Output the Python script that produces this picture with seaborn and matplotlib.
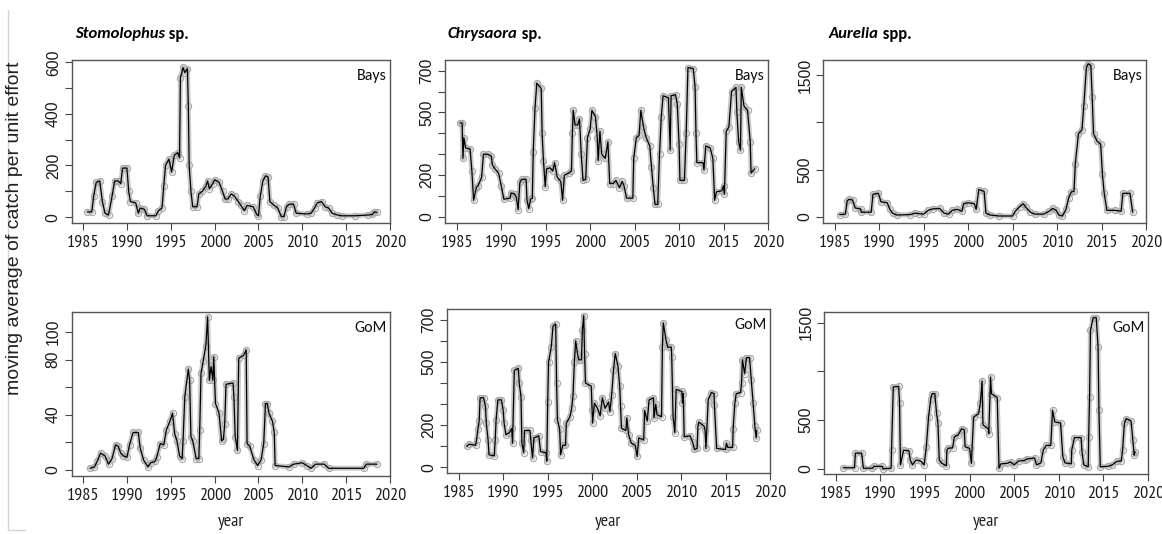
import numpy as np
import pandas as pd
import matplotlib
matplotlib.use("Agg")
import matplotlib.pyplot as plt
import seaborn as sns
from matplotlib import font_manager
from matplotlib.lines import Line2D

# ---------------- data ----------------
st_bays_year = [1985.5, 1986.0, 1986.2, 1986.5, 1986.9, 1987.2, 1987.5, 1987.9, 1988.3, 1988.6,
                1989.0, 1989.3, 1989.5, 1990.0, 1990.2, 1990.4, 1991.0, 1991.3, 1991.5, 1992.0,
                1992.3, 1993.3, 1993.6, 1994.0, 1994.2, 1994.4, 1994.8, 1995.1, 1995.4, 1995.8,
                1996.0, 1996.1, 1996.4, 1996.6, 1996.9, 1997.0, 1997.1, 1997.3, 1997.5, 1998.0,
                1998.2, 1998.6, 1999.0, 1999.2, 1999.4, 1999.8, 2000.0, 2000.5, 2000.9, 2001.2,
                2001.5, 2001.9, 2002.3, 2002.7, 2003.0, 2003.4, 2003.7, 2004.4, 2004.8, 2005.0,
                2005.2, 2005.5, 2005.8, 2006.1, 2006.3, 2006.8, 2007.2, 2007.6, 2007.9, 2008.2,
                2008.5, 2009.0, 2009.3, 2010.5, 2011.0, 2011.4, 2011.7, 2012.2, 2012.6, 2013.0,
                2013.4, 2014.0, 2014.5, 2016.0, 2017.5, 2018.0, 2018.2, 2018.5]
st_bays_val = [20, 20, 80, 135, 140, 60, 15, 8, 80, 140,
               140, 130, 190, 190, 100, 60, 55, 15, 35, 30,
               5, 5, 25, 35, 120, 200, 225, 175, 240, 250,
               230, 540, 580, 560, 575, 430, 200, 100, 40, 40,
               90, 100, 120, 140, 110, 130, 145, 135, 100, 70,
               70, 90, 80, 60, 45, 25, 45, 40, 10, 5,
               80, 140, 160, 155, 60, 45, 35, 2, 2, 40,
               50, 50, 15, 12, 15, 35, 55, 60, 40, 35,
               15, 8, 5, 5, 8, 10, 20, 18]

ch_bays_year = [1985.4, 1985.6, 1985.7, 1985.8, 1986.0, 1986.5, 1986.7, 1986.9, 1987.2, 1987.4,
                1987.8, 1988.0, 1988.5, 1988.9, 1989.0, 1989.3, 1989.7, 1990.0, 1990.3, 1991.0,
                1991.1, 1991.5, 1991.7, 1991.9, 1992.1, 1992.3, 1992.8, 1992.9, 1993.1, 1993.3,
                1993.5, 1993.6, 1993.8, 1994.0, 1994.5, 1994.6, 1994.75, 1994.95, 1995.1, 1995.5,
                1995.8, 1996.0, 1996.3, 1996.7, 1996.9, 1997.1, 1997.6, 1997.9, 1998.0, 1998.1,
                1998.3, 1998.6, 1998.8, 1999.0, 1999.2, 1999.5, 1999.7, 2000.0, 2000.2, 2000.6,
                2000.8, 2000.9, 2001.1, 2001.3, 2001.7, 2002.0, 2002.2, 2002.6, 2002.9, 2003.3,
                2003.6, 2003.8, 2004.1, 2004.8, 2004.9, 2005.2, 2005.5, 2005.7, 2006.0, 2006.3,
                2006.7, 2006.9, 2007.1, 2007.3, 2007.6, 2007.8, 2008.0, 2008.2, 2008.8, 2009.0,
                2009.1, 2009.6, 2009.8, 2010.0, 2010.1, 2010.6, 2010.8, 2011.0, 2011.6, 2011.8,
                2011.9, 2012.0, 2012.7, 2012.8, 2013.0, 2013.5, 2013.8, 2014.0, 2014.2, 2014.8,
                2015.0, 2015.1, 2015.3, 2015.6, 2015.9, 2016.4, 2016.5, 2016.7, 2016.9, 2017.0,
                2017.3, 2017.7, 2018.0, 2018.1, 2018.5]
ch_bays_val = [450, 450, 280, 380, 330, 325, 220, 80, 140, 150,
               190, 300, 300, 290, 250, 230, 210, 150, 85, 90,
               115, 110, 95, 35, 165, 180, 180, 80, 40, 85,
               90, 310, 520, 640, 615, 400, 270, 145, 230, 235,
               220, 260, 190, 170, 80, 200, 210, 220, 400, 510,
               440, 440, 470, 300, 175, 180, 380, 420, 510, 480,
               380, 270, 410, 300, 280, 360, 160, 160, 175, 140,
               170, 150, 90, 90, 280, 380, 390, 510, 430, 380,
               340, 240, 140, 60, 60, 300, 480, 580, 570, 320,
               580, 585, 540, 350, 175, 175, 400, 715, 710, 620,
               400, 260, 260, 225, 340, 330, 280, 80, 120, 125,
               150, 110, 410, 430, 600, 620, 500, 360, 320, 620,
               530, 510, 360, 210, 230]

au_bays_year = [1985.55, 1986.2, 1986.4, 1986.6, 1987.0, 1987.3, 1987.9, 1988.0, 1989.1, 1989.3,
                1989.9, 1990.2, 1990.9, 1991.2, 1991.5, 1992.0, 1993.5, 1994.0, 1994.5, 1995.0,
                1995.5, 1996.0, 1996.8, 1997.3, 1997.8, 1998.2, 1998.8, 1999.3, 1999.5, 2000.0,
                2000.7, 2000.9, 2001.2, 2001.8, 2002.0, 2002.5, 2003.5, 2005.0, 2005.3, 2005.8,
                2006.2, 2006.5, 2007.0, 2007.5, 2008.5, 2009.1, 2009.5, 2009.9, 2010.2, 2010.6,
                2011.0, 2011.3, 2011.6, 2011.9, 2012.05, 2012.4, 2012.8, 2013.0, 2013.3, 2013.5,
                2013.8, 2013.95, 2014.1, 2014.5, 2014.9, 2015.1, 2015.3, 2015.6, 2016.5, 2017.2,
                2017.4, 2018.2, 2018.5]
au_bays_val = [25, 30, 170, 185, 180, 95, 85, 50, 50, 240,
               250, 160, 150, 80, 40, 20, 25, 40, 35, 30,
               70, 85, 90, 40, 30, 70, 80, 60, 140, 150,
               140, 80, 290, 270, 40, 20, 10, 10, 60, 110,
               140, 100, 50, 30, 30, 60, 90, 70, 20, 10,
               80, 200, 265, 270, 560, 880, 920, 1170, 1580, 1620,
               1600, 1270, 880, 800, 770, 450, 250, 70, 70, 60,
               250, 250, 50]

st_gom_year = [1985.8, 1986.3, 1986.6, 1987.0, 1987.5, 1987.9, 1988.3, 1988.7, 1989.0, 1989.3,
               1989.6, 1990.0, 1990.3, 1990.7, 1991.3, 1991.5, 1991.9, 1992.4, 1992.7, 1993.2,
               1993.4, 1993.8, 1994.2, 1994.5, 1994.9, 1995.2, 1995.45, 1995.7, 1996.0, 1996.3,
               1996.4, 1996.6, 1997.0, 1997.15, 1997.3, 1997.5, 1997.9, 1998.2, 1998.3, 1998.45,
               1998.7, 1999.0, 1999.2, 1999.4, 1999.6, 1999.8, 1999.9, 2000.1, 2000.5, 2000.8,
               2001.0, 2001.15, 2001.3, 2002.1, 2002.2, 2002.35, 2002.6, 2002.75, 2003.3, 2003.6,
               2003.7, 2004.0, 2004.5, 2004.9, 2005.3, 2005.6, 2005.8, 2006.0, 2006.2, 2006.6,
               2006.8, 2006.9, 2008.5, 2009.0, 2010.0, 2010.5, 2011.0, 2011.5, 2012.5, 2013.0,
               2017.0, 2017.3, 2018.5]
st_gom_val = [1, 2, 6, 12, 10, 4, 8, 18, 17, 12,
              10, 9, 18, 27, 27, 16, 7, 2, 5, 6,
              9, 19, 18, 29, 35, 41, 26, 21, 10, 8,
              21, 53, 73, 65, 24, 21, 8, 8, 29, 70,
              79, 90, 111, 65, 75, 65, 82, 48, 41, 21,
              22, 33, 62, 63, 53, 24, 14, 81, 83, 87,
              19, 17, 7, 3, 7, 19, 48, 48, 41, 35,
              27, 3, 2, 4, 5, 3, 1, 4, 4, 1,
              1, 4, 4]

ch_gom_year = [1985.9, 1986.2, 1986.9, 1987.0, 1987.15, 1987.3, 1987.4, 1987.8, 1988.0, 1988.1,
               1988.3, 1988.4, 1989.0, 1989.1, 1989.2, 1989.4, 1989.8, 1990.0, 1990.1, 1990.3,
               1990.7, 1990.95, 1991.05, 1991.25, 1991.7, 1991.8, 1992.0, 1992.1, 1992.3, 1992.4,
               1993.0, 1993.1, 1993.3, 1993.45, 1994.0, 1994.2, 1994.8, 1994.9, 1995.0, 1995.1,
               1995.4, 1995.6, 1995.9, 1996.0, 1996.1, 1996.35, 1996.45, 1996.7, 1997.0, 1997.1,
               1997.5, 1997.7, 1997.85, 1998.0, 1998.15, 1998.35, 1998.5, 1998.8, 1998.9, 1999.05,
               1999.15, 1999.25, 1999.9, 2000.0, 2000.05, 2000.25, 2000.6, 2000.9, 2001.15, 2001.45,
               2001.85, 2002.0, 2002.2, 2002.4, 2002.6, 2002.9, 2003.1, 2003.2, 2003.3, 2003.8,
               2003.9, 2004.1, 2004.4, 2004.85, 2005.05, 2005.25, 2005.8, 2005.9, 2006.2, 2006.4,
               2006.9, 2006.95, 2007.15, 2007.3, 2007.8, 2007.9, 2008.0, 2008.3, 2008.5, 2008.9,
               2008.95, 2009.1, 2009.3, 2009.45, 2010.1, 2010.15, 2010.25, 2010.35, 2011.0, 2011.3,
               2011.5, 2011.8, 2011.9, 2012.0, 2012.6, 2012.7, 2012.8, 2013.05, 2013.4, 2013.7,
               2013.75, 2014.0, 2015.0, 2015.1, 2015.25, 2015.8, 2015.85, 2016.05, 2016.2, 2016.7,
               2016.8, 2016.9, 2017.15, 2017.35, 2017.7, 2017.9, 2018.1, 2018.3, 2018.45, 2018.5]
ch_gom_val = [100, 110, 105, 130, 180, 220, 330, 330, 290, 210,
              130, 60, 55, 130, 225, 320, 320, 270, 210, 155,
              165, 185, 115, 460, 470, 400, 335, 115, 70, 175,
              175, 130, 45, 140, 150, 75, 70, 30, 310, 500,
              570, 670, 680, 400, 225, 180, 60, 105, 105, 210,
              240, 280, 340, 500, 600, 540, 510, 510, 650, 720,
              540, 400, 385, 270, 210, 305, 280, 245, 330, 280,
              310, 265, 345, 460, 540, 480, 385, 290, 185, 175,
              235, 155, 115, 105, 52, 140, 130, 270, 220, 320,
              330, 235, 300, 250, 240, 570, 685, 605, 570, 570,
              525, 240, 165, 370, 360, 305, 350, 145, 150, 120,
              85, 90, 195, 215, 195, 175, 90, 320, 355, 350,
              295, 90, 85, 115, 95, 95, 180, 305, 350, 355,
              400, 510, 445, 520, 520, 415, 305, 195, 140, 175]

au_gom_year = [1985.85, 1987.1, 1987.2, 1987.9, 1988.1, 1989.1, 1989.3, 1990.2, 1990.3, 1991.2,
               1991.25, 1991.45, 1992.05, 1992.15, 1992.25, 1992.6, 1993.2, 1993.35, 1993.6, 1994.0,
               1994.5, 1994.9, 1995.15, 1995.4, 1995.65, 1995.8, 1996.1, 1996.3, 1996.45, 1996.6,
               1996.9, 1997.4, 1997.45, 1997.6, 1998.1, 1998.3, 1998.7, 1999.1, 1999.4, 1999.5,
               2000.0, 2000.2, 2000.45, 2001.0, 2001.2, 2001.4, 2001.5, 2002.1, 2002.15, 2002.35,
               2002.45, 2003.1, 2003.3, 2003.5, 2004.2, 2004.6, 2005.0, 2005.5, 2006.2, 2006.4,
               2007.3, 2007.5, 2008.0, 2008.25, 2008.6, 2009.1, 2009.3, 2009.55, 2010.2, 2010.45,
               2010.7, 2011.4, 2011.45, 2011.75, 2012.5, 2012.6, 2012.8, 2013.3, 2013.35, 2013.45,
               2013.55, 2013.85, 2014.2, 2014.4, 2014.5, 2014.65, 2015.5, 2016.0, 2016.5, 2017.0,
               2017.15, 2017.35, 2017.55, 2018.1, 2018.3, 2018.45, 2018.55]
au_gom_val = [10, 10, 160, 160, 5, 5, 25, 25, 0, 5,
              190, 840, 845, 670, 40, 190, 185, 90, 40, 90,
              80, 40, 225, 530, 720, 770, 770, 570, 465, 90,
              55, 30, 190, 210, 215, 330, 345, 410, 400, 225,
              210, 55, 530, 565, 670, 900, 450, 410, 360, 940,
              770, 730, 5, 50, 55, 70, 40, 80, 85, 100,
              110, 40, 60, 190, 240, 240, 600, 480, 470, 125,
              60, 50, 190, 320, 320, 175, 40, 20, 330, 740,
              1420, 1550, 1550, 1250, 600, 20, 25, 40, 75, 80,
              190, 465, 515, 490, 295, 140, 175]

x_ticks = [1985, 1990, 1995, 2000, 2005, 2010, 2015, 2020]

st_bays_yticks = [0, 100, 200, 300, 400, 500, 600]
st_bays_ylabels = ["0", "", "200", "", "400", "", "600"]
ch_yticks = [0, 100, 200, 300, 400, 500, 600, 700]
ch_ylabels = ["0", "", "200", "", "", "500", "", "700"]
au_yticks = [0, 500, 1000, 1500]
au_ylabels = ["0", "500", "", "1500"]
st_gom_yticks = [0, 20, 40, 60, 80, 100]
st_gom_ylabels = ["0", "", "40", "", "80", "100"]

region_labels = ["Bays", "GoM"]
genus_names = ["Stomolophus", "Chrysaora", "Aurelia"]
genus_suffix = [" sp.", " sp.", " spp."]
y_title = "moving average of catch per unit effort"
x_title = "year"

# ---------------- fonts ----------------
sns.set_theme(style="white")
REG = ["Liberation Sans", "DejaVu Sans"]           # Arial-like
NAR = ["PT Sans Narrow", "Roboto Condensed", "Liberation Sans", "DejaVu Sans"]  # narrow Arial-like
CAL = ["Carlito", "Lato", "Liberation Sans", "DejaVu Sans"]  # Calibri-like
plt.rcParams["font.family"] = REG

W, H = 1162, 534
fig = plt.figure(figsize=(W / 100, H / 100), dpi=100)
fig.patch.set_facecolor("white")


def fbox(x0, x1, y0, y1):
    return [x0 / W, 1 - y1 / H, (x1 - x0) / W, (y1 - y0) / H]


boxes = [
    fbox(71.5, 390, 60, 223), fbox(445, 768, 60, 223), fbox(823, 1146, 60, 223),
    fbox(71.5, 390, 312, 476), fbox(447, 770, 309, 473), fbox(824, 1148, 312, 474),
]
series = [
    (st_bays_year, st_bays_val, (-23, 609), st_bays_yticks, st_bays_ylabels),
    (ch_bays_year, ch_bays_val, (-29, 751), ch_yticks, ch_ylabels),
    (au_bays_year, au_bays_val, (-64, 1659), au_yticks, au_ylabels),
    (st_gom_year, st_gom_val, (-4.6, 114.5), st_gom_yticks, st_gom_ylabels),
    (ch_gom_year, ch_gom_val, (-26.5, 751), ch_yticks, ch_ylabels),
    (au_gom_year, au_gom_val, (-54, 1609), au_yticks, au_ylabels),
]

axes = []
for i, (box, (yr, val, ylim, yt, yl)) in enumerate(zip(boxes, series)):
    ax = fig.add_axes(box)
    axes.append(ax)
    df = pd.DataFrame({"year": yr, "value": val})
    sns.lineplot(data=df, x="year", y="value", ax=ax, color="#c9c9c9", lw=3.6,
                 estimator=None, sort=False, marker="o", markersize=4.5,
                 markerfacecolor="none", markeredgecolor="#a8a8a8", markeredgewidth=0.8)
    sns.lineplot(data=df, x="year", y="value", ax=ax, color="black", lw=0.9,
                 estimator=None, sort=False)
    ax.set_xlim(1983.68, 2019.95)
    ax.set_ylim(*ylim)
    ax.set_xticks(x_ticks)
    ax.set_xticklabels([str(t) for t in x_ticks], fontsize=13, family=NAR, color="#1a1a1a")
    ax.set_yticks(yt)
    ax.set_yticklabels(yl, fontsize=11.3, rotation=90, va="center", color="#1a1a1a")
    ax.set_xlabel("")
    ax.set_ylabel("")
    ax.tick_params(axis="both", direction="out", length=4.7, width=0.8,
                   color="#444444", bottom=True, left=True)
    ax.tick_params(axis="x", pad=4)
    ax.tick_params(axis="y", pad=3)
    for s in ax.spines.values():
        s.set_color("#555555")
        s.set_linewidth(1.0)
    ax.grid(False)
    ax.set_facecolor("white")
    ax.text(0.99, 0.9, region_labels[i // 3], transform=ax.transAxes, ha="right",
            va="center", fontsize=11.5, family=CAL, color="#111111")

# titles (bold italic genus + bold upright suffix)
fig.canvas.draw()
rend = fig.canvas.get_renderer()
title_x = [75, 448, 829]
for gx, g, sfx in zip(title_x, genus_names, genus_suffix):
    t1 = fig.text(gx / W, 1 - 34 / H, g, fontsize=12, family=CAL,
                  fontweight="bold", fontstyle="italic", va="center", ha="left", color="black")
    bb = t1.get_window_extent(renderer=rend)
    fig.text(bb.x1 / W, 1 - 34 / H, sfx, fontsize=12, family=CAL,
             fontweight="bold", va="center", ha="left", color="black")

fig.text(15 / W, 1 - 228 / H, y_title, rotation=90, ha="center", va="center",
         fontsize=14, color="#222222")
for ax in axes[3:]:
    pos = ax.get_position()
    fig.text(pos.x0 + pos.width / 2, 1 - 522 / H, x_title, ha="center", va="center",
             fontsize=13, family=NAR, color="#222222")

# faint frame line at the left/bottom of the reference picture
fig.add_artist(Line2D([8 / W, 8 / W], [1 - 10 / H, 1 - 530 / H], color="#d4d4d4", lw=1))
fig.add_artist(Line2D([8 / W, 25 / W], [1 - 530 / H, 1 - 530 / H], color="#d4d4d4", lw=1))

fig.savefig("out.png", dpi=100, facecolor="white")
